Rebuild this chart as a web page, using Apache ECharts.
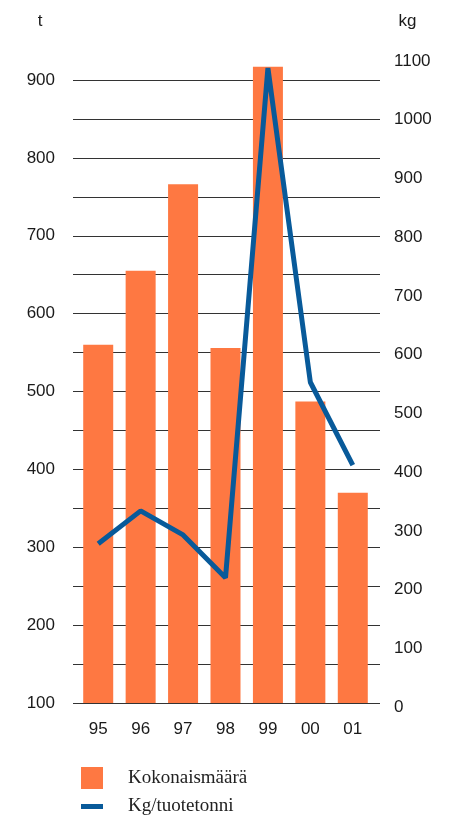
<!DOCTYPE html>
<html>
<head>
<meta charset="utf-8">
<script src="https://cdn.jsdelivr.net/npm/echarts@6/dist/echarts.min.js"></script>
<style>
html,body{margin:0;padding:0;background:#fff;}
#chart{width:449px;height:816px;}
</style>
</head>
<body>
<div id="chart"></div>
<script>
const categories = ['95', '96', '97', '98', '99', '00', '01'];
const totalTonnes = [560, 655, 766, 556, 917, 487, 370];
const kgPerTonne = [278, 334, 293, 220, 1088, 553, 412];
const seriesNames = ['Kokonaismäärä', 'Kg/tuotetonni'];
const leftUnit = 't';
const rightUnit = 'kg';

const SANS = '"Liberation Sans", Arial, Helvetica, sans-serif';
const SERIF = '"Liberation Serif", "Times New Roman", serif';
const ORANGE = '#fe7842';
const BLUE = '#085a9a';
const GRID = '#333';

const chart = echarts.init(document.getElementById('chart'));
chart.setOption({
  animation: false,
  backgroundColor: '#fff',
  grid: [
    {left: 73, right: 69, top: 80, bottom: 113},
    {left: 77, right: 75, top: 60.53, bottom: 113},
    {left: 77, right: 75, top: 61, bottom: 109}
  ],
  xAxis: [
    {type: 'category', gridIndex: 0, data: categories, show: false},
    {type: 'category', gridIndex: 1, data: categories,
     axisLine: {show: false}, axisTick: {show: false},
     axisLabel: {margin: 18, fontSize: 17, color: '#1a1a1a', fontFamily: SANS}},
    {type: 'category', gridIndex: 2, data: categories, show: false}
  ],
  yAxis: [
    {type: 'value', gridIndex: 0, min: 100, max: 900, interval: 50,
     name: leftUnit, nameLocation: 'end', nameGap: 50,
     nameTextStyle: {fontSize: 17, color: '#1a1a1a', fontFamily: SANS, align: 'center', padding: [0, 66, 0, 0]},
     axisLine: {show: false}, axisTick: {show: false},
     splitLine: {show: true, lineStyle: {color: GRID, width: 1}},
     axisLabel: {margin: 18, fontSize: 17, color: '#1a1a1a', fontFamily: SANS,
       formatter: v => (v % 100 === 0 ? String(v) : '')}},
    {type: 'value', gridIndex: 1, min: 100, max: 925, show: false},
    {type: 'value', gridIndex: 2, position: 'right', min: 0, max: 1100, interval: 100,
     name: rightUnit, nameLocation: 'end', nameGap: 31,
     nameTextStyle: {fontSize: 17, color: '#1a1a1a', fontFamily: SANS, align: 'center', padding: [0, 0, 0, 67]},
     axisLine: {show: false}, axisTick: {show: false}, splitLine: {show: false},
     axisLabel: {margin: 20, fontSize: 17, color: '#1a1a1a', fontFamily: SANS,
       formatter: v => String(v)}}
  ],
  legend: [
    {data: [seriesNames[0]], left: 81, top: 767, orient: 'vertical', padding: 0,
     icon: 'rect', itemWidth: 22, itemHeight: 22, selectedMode: false,
     textStyle: {fontFamily: SERIF, fontSize: 19, color: '#222', padding: [0, 0, 0, 20]}},
    {data: [{name: seriesNames[1], icon: 'rect', itemStyle: {color: BLUE}}], left: 81, top: 797, orient: 'vertical', padding: 0,
     itemWidth: 22, itemHeight: 5, selectedMode: false,
     textStyle: {fontFamily: SERIF, fontSize: 19, color: '#222', padding: [0, 0, 0, 20]}}
  ],
  series: [
    {name: seriesNames[0], type: 'bar', xAxisIndex: 1, yAxisIndex: 1,
     data: totalTonnes, barWidth: 30,
     itemStyle: {color: ORANGE}},
    {name: seriesNames[1], type: 'line', xAxisIndex: 2, yAxisIndex: 2,
     data: kgPerTonne, symbol: 'none', clip: false,
     lineStyle: {color: BLUE, width: 5, join: 'bevel', cap: 'butt'},
     itemStyle: {color: BLUE}}
  ]
});
</script>
</body>
</html>
